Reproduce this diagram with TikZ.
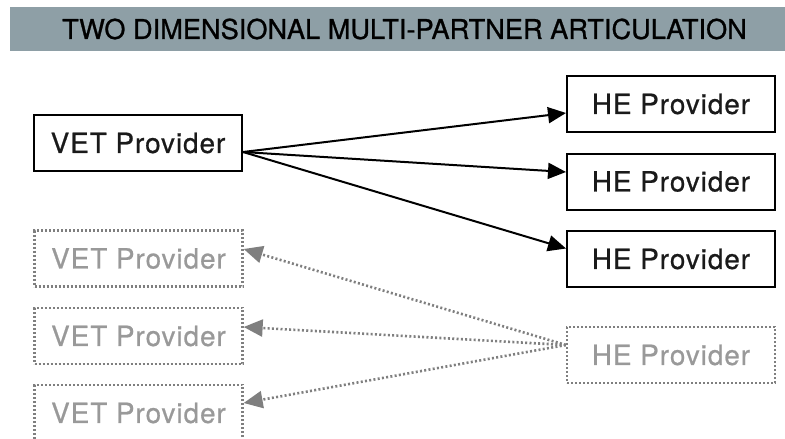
\documentclass[tikz,border=0pt]{standalone}
\usepackage{fontspec}
\setmainfont{TeX Gyre Heros}
\newfontfamily\boxfont[LetterSpace=3.6,FakeBold=0.7]{TeX Gyre Heros}
\newfontfamily\titlefont[FakeBold=0.9]{TeX Gyre Heros}
\usetikzlibrary{arrows.meta}
\definecolor{bandgray}{HTML}{8E9FA6}
\definecolor{ghostline}{HTML}{7F7F7F}
\definecolor{ghosttext}{HTML}{999999}
\definecolor{textblack}{HTML}{1A1A1A}
\tikzset{
  provbox/.style={draw=black, line width=2pt, minimum width=208pt, minimum height=56pt,
    inner sep=0pt, font=\boxfont\fontsize{27.8}{30}\selectfont, text=textblack},
  ghostbox/.style={draw=ghostline, line width=2.3pt, dash pattern=on 2pt off 2pt,
    minimum width=208pt, minimum height=56pt, inner sep=0pt,
    font=\boxfont\fontsize{27.8}{30}\selectfont, text=ghosttext},
  solidarrow/.style={draw=black, line width=2pt, -{Triangle[length=18pt,width=16pt]}},
  ghostarrow/.style={draw=ghostline, line width=2.6pt, dash pattern=on 2pt off 2.3pt,
    -{Triangle[length=19pt,width=17pt,fill=ghostline]}},
}
\begin{document}
\begin{tikzpicture}[x=1pt,y=-1pt]
\useasboundingbox (0,0) rectangle (785,439);
\fill[bandgray] (10,7) rectangle (785,51);
\node[inner sep=0pt, anchor=center, font=\titlefont\fontsize{27.2}{30}\selectfont, text=black] (title) at (404.5,29) {TWO DIMENSIONAL MULTI-PARTNER ARTICULATION};

\node[provbox] (vet) at (138,143) {VET Provider};
\node[provbox] (he1) at (671,104) {HE Provider};
\node[provbox] (he2) at (671,181.5) {HE Provider};
\node[provbox] (he3) at (671,259) {HE Provider};

\node[ghostbox] (gv1) at (138.5,258.5) {VET Provider};
\node[ghostbox] (gv2) at (138.5,336) {VET Provider};
\node[ghostbox] (gv3) at (138.5,413) {VET Provider};
\node[ghostbox] (ghe) at (671,355) {HE Provider};

\coordinate (vs) at ([yshift=-9pt]vet.east);
\coordinate (t1) at ([yshift=-9pt]he1.west);
\coordinate (t2) at ([yshift=9.5pt]he2.west);
\coordinate (t3) at ([yshift=10.5pt]he3.west);
\draw[solidarrow] (vs) -- (t1);
\draw[solidarrow] (vs) -- (t2);
\draw[solidarrow] (vs) -- (t3);

\coordinate (gs) at ([yshift=10pt]ghe.west);
\coordinate (g1) at ([yshift=9.5pt]gv1.east);
\coordinate (g2) at ([yshift=9pt]gv2.east);
\coordinate (g3) at ([yshift=10pt]gv3.east);
\draw[ghostarrow] (gs) -- (g1);
\draw[ghostarrow] (gs) -- (g2);
\draw[ghostarrow] (gs) -- (g3);
\end{tikzpicture}
\end{document}
